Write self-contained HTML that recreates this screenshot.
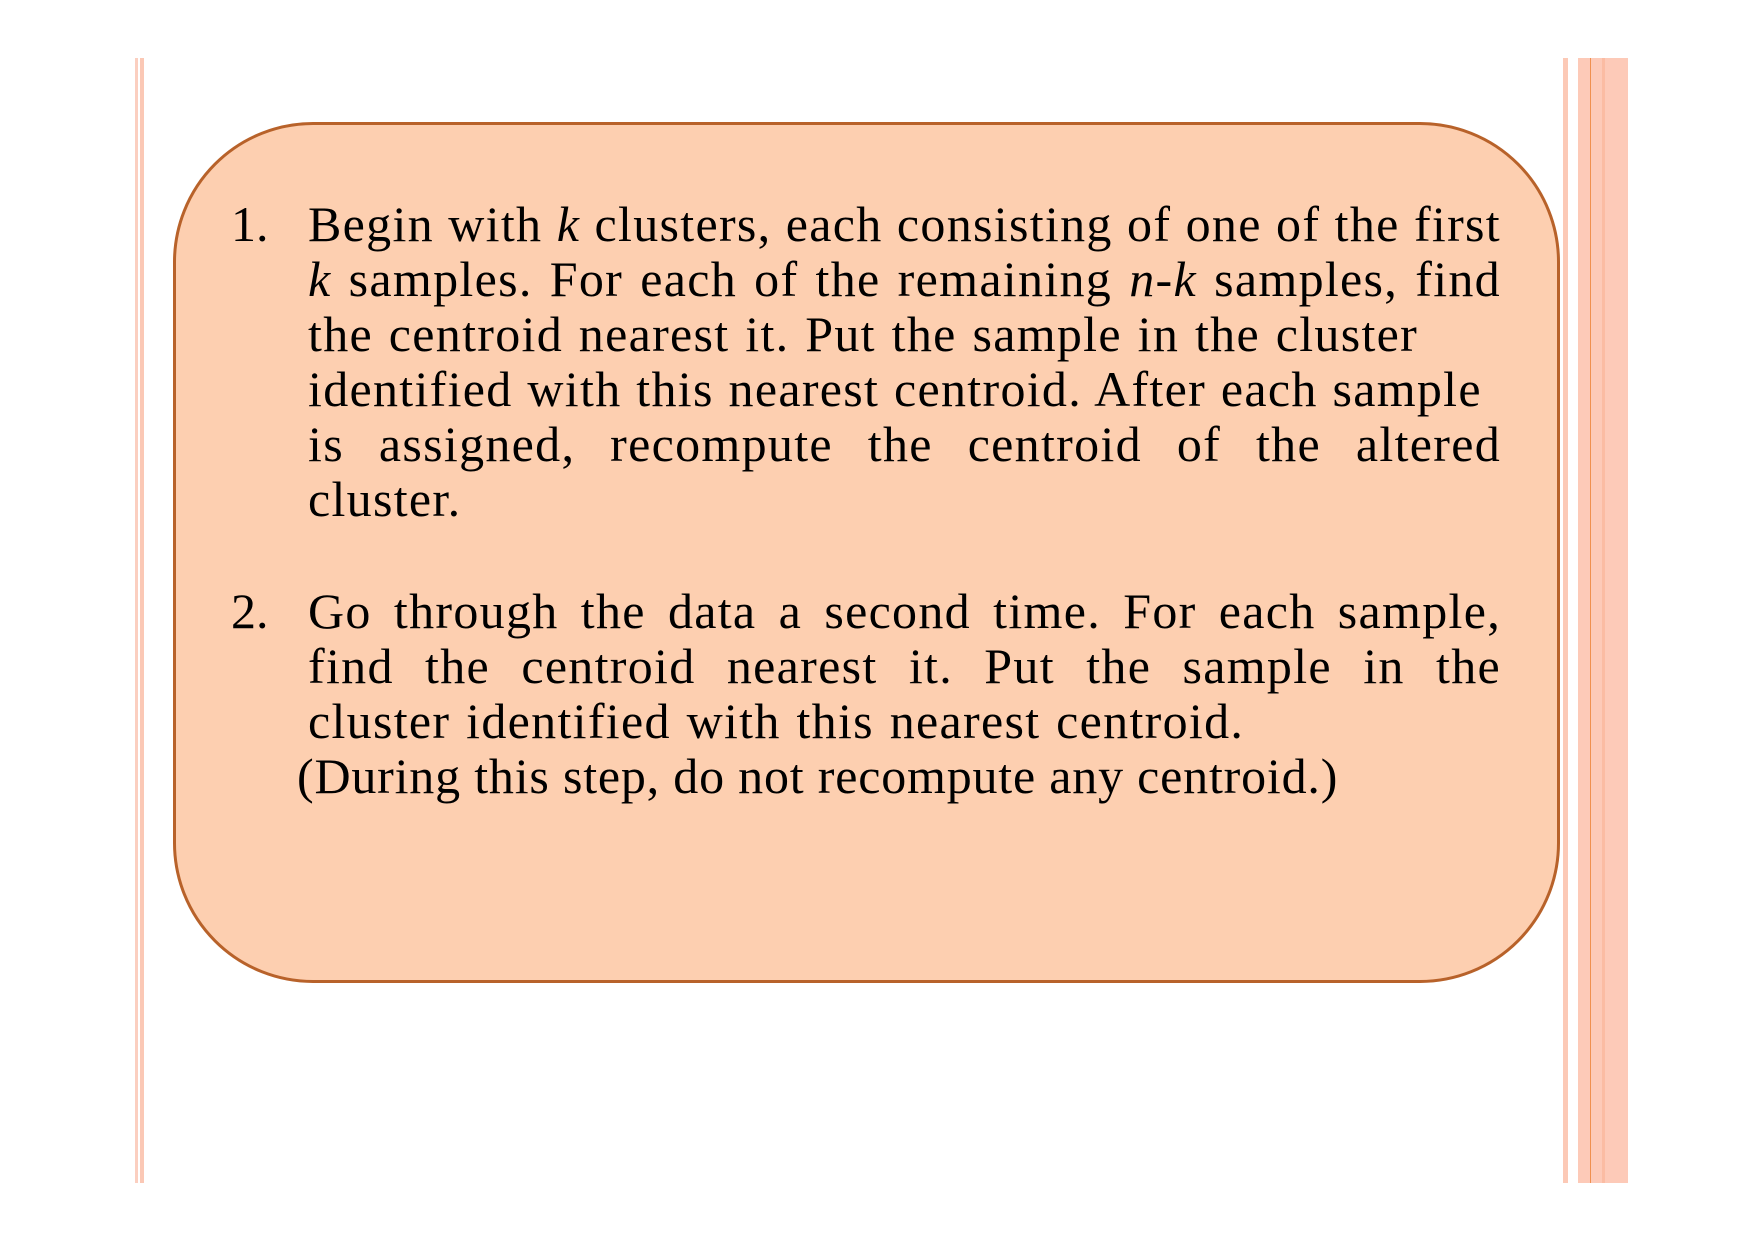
<!DOCTYPE html>
<html><head><meta charset="utf-8"><style>
html,body{margin:0;padding:0;background:#fff;}
body{width:1755px;height:1241px;position:relative;overflow:hidden;font-family:"Liberation Serif",serif;color:#000;}
.b{position:absolute;}
.box{position:absolute;left:173px;top:122px;width:1381px;height:855px;background:#fdcfb0;border:3px solid #b8622a;border-radius:140px;}
.l{position:absolute;left:308px;width:1193px;font-size:50px;line-height:50px;letter-spacing:1.3px;white-space:nowrap;}
.j{text-align:justify;text-align-last:justify;}
.n{position:absolute;left:231px;font-size:50px;line-height:50px;}
i{font-style:italic;}
</style></head><body>
<div class="b" style="left:135px;top:58px;width:3px;height:1125px;background:#fbcfc0"></div>
<div class="b" style="left:140px;top:58px;width:4px;height:1125px;background:#fbc8b5"></div>
<div class="b" style="left:1563px;top:58px;width:5px;height:1125px;background:#fcc9b6"></div>
<div class="b" style="left:1578px;top:58px;width:50px;height:1125px;background:#fdcab8"></div>
<div class="b" style="left:1590px;top:58px;width:1px;height:1125px;background:#f0904f"></div>
<div class="b" style="left:1602px;top:58px;width:3px;height:1125px;background:#fbbca3"></div>
<div class="box"></div>
<div class="n" style="top:199px">1.</div>
<div class="l j" style="top:199px">Begin with <i>k</i> clusters, each consisting of one of the first</div>
<div class="l j" style="top:254px"><i>k</i> samples. For each of the remaining <i>n-k</i> samples, find</div>
<div class="l" style="top:309px;word-spacing:2px">the centroid nearest it. Put the sample in the cluster</div>
<div class="l" style="top:364px;word-spacing:1px">identified with this nearest centroid. After each sample</div>
<div class="l j" style="top:419px">is assigned, recompute the centroid of the altered</div>
<div class="l" style="top:474px">cluster.</div>
<div class="n" style="top:586px">2.</div>
<div class="l j" style="top:586px">Go through the data a second time. For each sample,</div>
<div class="l j" style="top:641px">find the centroid nearest it. Put the sample in the</div>
<div class="l" style="top:696px;word-spacing:2px">cluster identified with this nearest centroid.</div>
<div class="l" style="top:751px;left:297px;letter-spacing:0.8px">(During this step, do not recompute any centroid.)</div>
</body></html>
